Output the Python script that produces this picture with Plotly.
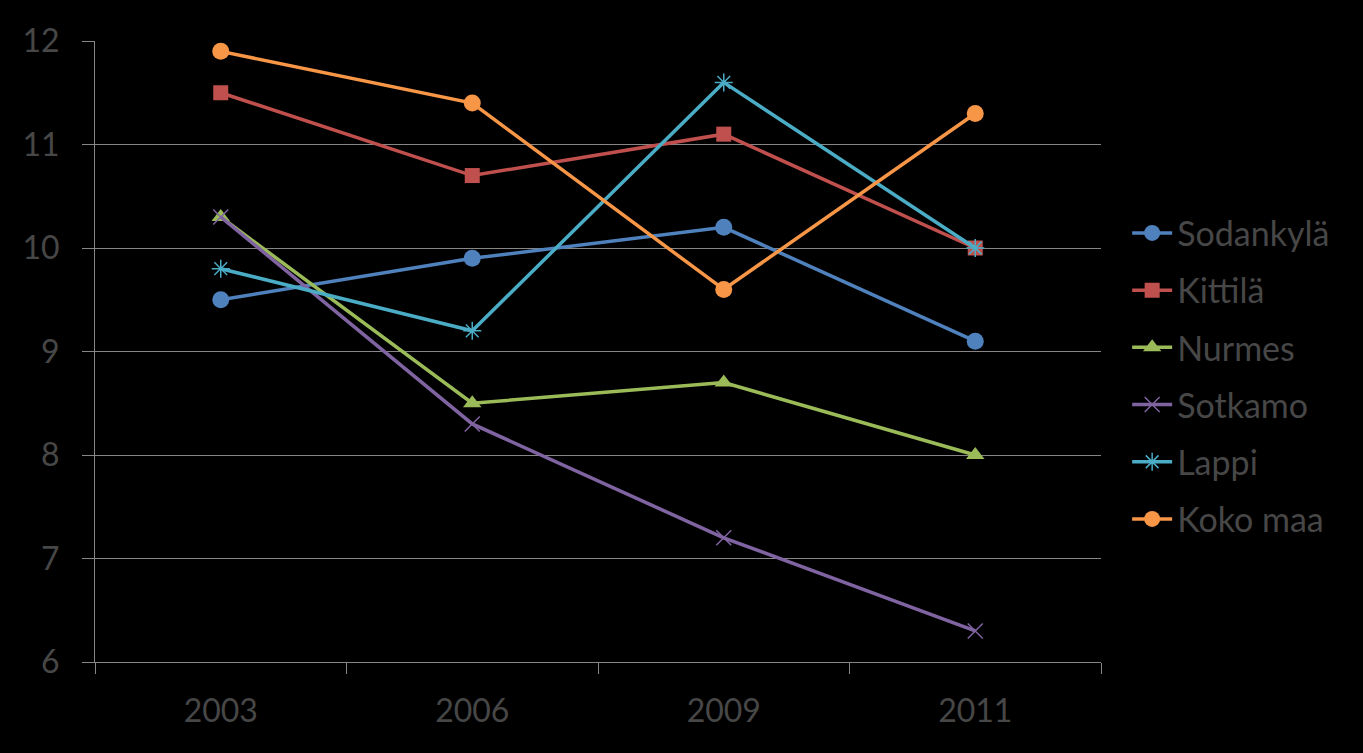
import plotly.graph_objects as go

years = ["2003", "2006", "2009", "2011"]
sodankyla = [9.5, 9.9, 10.2, 9.1]
kittila = [11.5, 10.7, 11.1, 10.0]
nurmes = [10.3, 8.5, 8.7, 8.0]
sotkamo = [10.3, 8.3, 7.2, 6.3]
lappi = [9.8, 9.2, 11.6, 10.0]
koko_maa = [11.9, 11.4, 9.6, 11.3]

series = [
    ("Sodankylä", sodankyla, "#4F81BD", dict(symbol="circle", size=17)),
    ("Kittilä", kittila, "#C0504D", dict(symbol="square", size=15)),
    ("Nurmes", nurmes, "#9BBB59", dict(symbol="triangle-up", size=16)),
    ("Sotkamo", sotkamo, "#8064A2", dict(symbol="x-thin-open", size=15)),
    ("Lappi", lappi, "#4BACC6", dict(symbol="asterisk-open", size=15)),
    ("Koko maa", koko_maa, "#F79646", dict(symbol="circle", size=17)),
]

fig = go.Figure()
for i, (name, vals, color, mk) in enumerate(series):
    marker = dict(color=color, **mk)
    if mk["symbol"].endswith("open"):
        marker["line"] = dict(color=color, width=1.5)
    else:
        marker["line"] = dict(width=0)
    fig.add_trace(go.Scatter(
        x=years, y=vals, name=name, mode="lines+markers",
        line=dict(color=color, width=3.5), marker=marker,
        legendgroup=str(i),
    ))

grid = "#868686"
font_col = "#474747"
fig.update_layout(
    width=1363, height=753,
    paper_bgcolor="black", plot_bgcolor="black",
    margin=dict(l=95, r=262, t=41, b=91),
    font=dict(family="Lato, Calibri, sans-serif", color=font_col, size=32),
    legend=dict(
        x=1.026, xanchor="left", y=0.46, yanchor="middle",
        font=dict(size=34, color=font_col),
        traceorder="grouped", tracegroupgap=10,
        bgcolor="rgba(0,0,0,0)", itemwidth=40,
    ),
    xaxis=dict(
        type="category", range=[-0.5, 3.5],
        showgrid=False, showline=True, linecolor=grid, linewidth=1,
        ticks="outside", tickson="boundaries", ticklen=11, tickcolor=grid,
        tickfont=dict(size=32, color=font_col),
        ticklabelstandoff=21, zeroline=False,
    ),
    yaxis=dict(
        range=[6, 12], dtick=1, tick0=6,
        showgrid=True, gridcolor=grid, gridwidth=1,
        showline=True, linecolor=grid, linewidth=1,
        ticks="outside", ticklen=12, tickcolor=grid,
        tickfont=dict(size=32, color=font_col),
        ticklabelstandoff=16, zeroline=False,
    ),
)

fig.write_html("out.html")
